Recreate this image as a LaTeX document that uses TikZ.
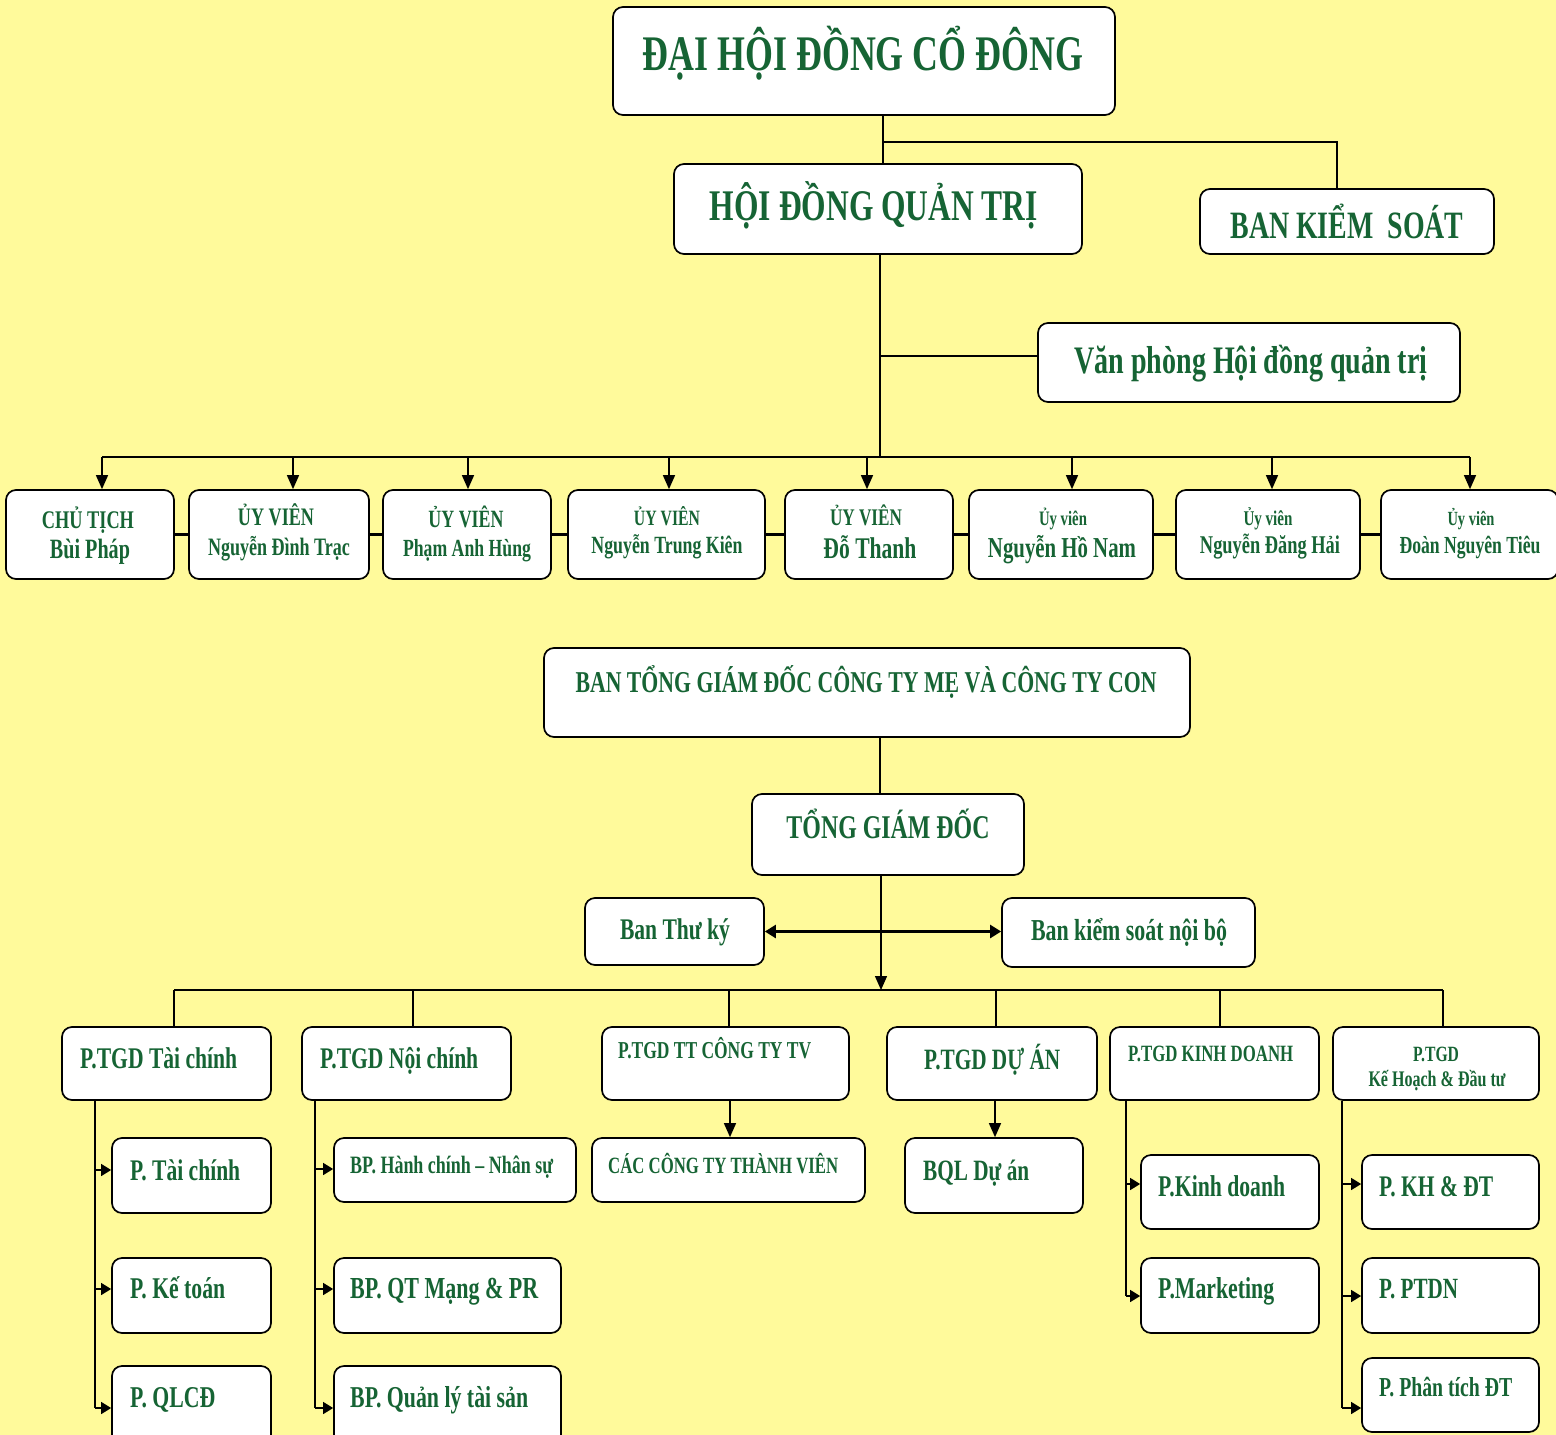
\documentclass[tikz,border=0pt]{standalone}
\usepackage{graphicx}
\usepackage{fontspec}
\setmainfont{Liberation Serif}[FakeStretch=0.72]
\usetikzlibrary{arrows.meta,fit}
\definecolor{bg}{RGB}{255,250,155}
\definecolor{tg}{RGB}{22,100,52}
\tikzset{
 bx/.style={draw=black, line width=1.7pt, fill=white, rounded corners=10pt, inner sep=0pt},
 txt/.style={inner sep=0pt, text=tg, font=\bfseries},
 ln/.style={draw=black, line width=1.4pt},
 arr/.style={ln, -{Triangle[length=14pt,width=12pt]}},
 sarr/.style={ln, -{Triangle[length=10pt,width=12pt]}},
 darr/.style={draw=black, line width=2.4pt, {Triangle[length=11pt,width=13pt]}-{Triangle[length=11pt,width=13pt]}},
}
\newcommand\bx[5]{\node[bx,fit={(#2,#3)(#4,#5)}] (#1) {};}
\newcommand\tx[6]{\node[txt,anchor=#1] (#2) at (#3,#4) {\resizebox{#5pt}{!}{#6}};}
\begin{document}
\begin{tikzpicture}[x=1pt,y=-1pt]
\fill[bg] (0,0) rectangle (1556,1435);
\useasboundingbox (0,0) rectangle (1556,1435);

% ---------- top ----------
\bx{dh}{613}{7}{1115}{115}
\tx{base}{tdh}{863}{70}{440}{ĐẠI HỘI ĐỒNG CỔ ĐÔNG}
\bx{hd}{674}{164}{1082}{254}
\tx{base}{thd}{874}{220}{328}{HỘI ĐỒNG QUẢN TRỊ}
\bx{bks}{1200}{189}{1494}{254}
\tx{base}{tbks}{1347}{238}{233}{BAN KIỂM~ SOÁT}
\bx{vp}{1038}{323}{1460}{402}
\tx{base}{tvp}{1251}{373}{353}{Văn phòng Hội đồng quản trị}

\coordinate (j1) at (883,142);
\coordinate (j2) at (1337,142);
\draw[ln] (j1 |- dh.south) -- (j1 |- hd.north);
\draw[ln] (j1) -- (j2) -- (j2 |- bks.north);
\coordinate (j3) at (880,356);
\coordinate (rb) at (880,457);
\draw[ln] (j3 |- hd.south) -- (rb);
\draw[ln] (j3) -- (j3 -| vp.west);

% ---------- board members ----------
\bx{r1}{6}{490}{174}{579}
\bx{r2}{189}{490}{369}{579}
\bx{r3}{383}{490}{551}{579}
\bx{r4}{568}{490}{765}{579}
\bx{r5}{785}{490}{953}{579}
\bx{r6}{969}{490}{1153}{579}
\bx{r7}{1176}{490}{1360}{579}
\bx{r8}{1381}{490}{1558}{579}

\tx{base}{r1a}{88}{528}{92}{CHỦ TỊCH}
\tx{base}{r1b}{90}{558}{80}{Bùi Pháp}
\tx{base}{r2a}{276}{525}{76}{ỦY VIÊN}
\tx{base}{r2b}{279}{555}{142}{Nguyễn Đình Trạc}
\tx{base}{r3a}{466}{527}{75}{ỦY VIÊN}
\tx{base}{r3b}{467}{556}{128}{Phạm Anh Hùng}
\tx{base}{r4a}{667}{525}{66}{ỦY VIÊN}
\tx{base}{r4b}{667}{553}{151}{Nguyễn Trung Kiên}
\tx{base}{r5a}{866}{525}{72}{ỦY VIÊN}
\tx{base}{r5b}{870}{558}{93}{Đỗ Thanh}
\tx{base}{r6a}{1063}{525}{48}{Ủy viên}
\tx{base}{r6b}{1062}{557}{148}{Nguyễn Hồ Nam}
\tx{base}{r7a}{1268}{525}{49}{Ủy viên}
\tx{base}{r7b}{1270}{553}{140}{Nguyễn Đăng Hải}
\tx{base}{r8a}{1471}{525}{47}{Ủy viên}
\tx{base}{r8b}{1470}{553}{141}{Đoàn Nguyên Tiêu}

\coordinate (a1) at (102,457);
\coordinate (a2) at (293,457);
\coordinate (a3) at (468,457);
\coordinate (a4) at (669,457);
\coordinate (a5) at (867,457);
\coordinate (a6) at (1072,457);
\coordinate (a7) at (1272,457);
\coordinate (a8) at (1470,457);
\draw[ln] (a1) -- (a8);
\foreach \i in {1,...,8}{\draw[arr] (a\i) -- (a\i |- r\i.north);}
\foreach \i/\j in {1/2,2/3,3/4,4/5,5/6,6/7,7/8}{\draw[ln, line width=2.2pt] (r\i.east) -- (r\j.west);}

% ---------- executive ----------
\bx{bt}{544}{648}{1190}{737}
\tx{base}{tbt}{866}{692}{581}{BAN TỔNG GIÁM ĐỐC CÔNG TY MẸ VÀ CÔNG TY CON}
\bx{tgd}{752}{794}{1024}{875}
\tx{base}{ttgd}{888}{838}{203}{TỔNG GIÁM ĐỐC}
\bx{btk}{585}{898}{764}{965}
\tx{base}{tbtk}{675}{939}{110}{Ban Thư ký}
\bx{bksnb}{1002}{898}{1255}{967}
\tx{base}{tbksnb}{1129}{940}{196}{Ban kiểm soát nội bộ}

\coordinate (k0) at (880,700);
\draw[ln] (k0 |- bt.south) -- (k0 |- tgd.north);
\coordinate (hb) at (881,990);
\draw[darr] (btk.east) -- (btk.east -| bksnb.west);
\draw[arr] (hb |- tgd.south) -- (hb);

% ---------- deputy directors ----------
\bx{p1}{62}{1027}{271}{1100}
\bx{p2}{302}{1027}{511}{1100}
\bx{p3}{602}{1027}{849}{1100}
\bx{p4}{887}{1027}{1097}{1100}
\bx{p5}{1110}{1027}{1319}{1100}
\bx{p6}{1333}{1027}{1539}{1100}
\tx{base west}{tp1}{80}{1068}{157}{P.TGD Tài chính}
\tx{base west}{tp2}{320}{1068}{158}{P.TGD Nội chính}
\tx{base west}{tp3}{618}{1058}{193}{P.TGD TT CÔNG TY TV}
\tx{base west}{tp4}{924}{1069}{136}{P.TGD DỰ ÁN}
\tx{base west}{tp5}{1128}{1061}{165}{P.TGD KINH DOANH}
\tx{base}{tp6a}{1436}{1061}{46}{P.TGD}
\tx{base}{tp6b}{1437}{1086}{137}{Kế Hoạch \& Đầu tư}

\coordinate (c1) at (174,990);
\coordinate (c2) at (413,990);
\coordinate (c3) at (729,990);
\coordinate (c4) at (996,990);
\coordinate (c5) at (1220,990);
\coordinate (c6) at (1443,990);
\draw[ln] (c1) -- (c6);
\foreach \i in {1,...,6}{\draw[ln] (c\i) -- (c\i |- p\i.north);}

% ---------- departments ----------
\bx{k11}{112}{1138}{271}{1213}
\bx{k12}{112}{1258}{271}{1333}
\bx{k13}{112}{1366}{271}{1450}
\tx{base west}{tk11}{130}{1180}{110}{P. Tài chính}
\tx{base west}{tk12}{130}{1298}{95}{P. Kế toán}
\tx{base west}{tk13}{130}{1407}{85}{P. QLCĐ}

\bx{k21}{334}{1138}{576}{1202}
\bx{k22}{334}{1258}{561}{1333}
\bx{k23}{334}{1366}{561}{1450}
\tx{base west}{tk21}{350}{1173}{203}{BP. Hành chính – Nhân sự}
\tx{base west}{tk22}{350}{1298}{188}{BP. QT Mạng \& PR}
\tx{base west}{tk23}{350}{1407}{178}{BP. Quản lý tài sản}

\bx{k31}{592}{1138}{865}{1202}
\tx{base west}{tk31}{608}{1173}{230}{CÁC CÔNG TY THÀNH VIÊN}
\bx{k41}{905}{1138}{1083}{1213}
\tx{base west}{tk41}{923}{1180}{106}{BQL Dự án}

\bx{k51}{1141}{1155}{1319}{1229}
\bx{k52}{1141}{1258}{1319}{1333}
\tx{base west}{tk51}{1158}{1196}{127}{P.Kinh doanh}
\tx{base west}{tk52}{1158}{1298}{116}{P.Marketing}

\bx{k61}{1362}{1155}{1539}{1229}
\bx{k62}{1362}{1258}{1539}{1333}
\bx{k63}{1362}{1358}{1539}{1432}
\tx{base west}{tk61}{1379}{1196}{114}{P. KH \& ĐT}
\tx{base west}{tk62}{1379}{1298}{79}{P. PTDN}
\tx{base west}{tk63}{1379}{1396}{133}{P. Phân tích ĐT}

% column 1
\coordinate (v11) at (95,1170);
\coordinate (v12) at (95,1289);
\coordinate (v13) at (95,1408);
\draw[ln] (v11 |- p1.south) -- (v13);
\draw[sarr] (v11) -- (v11 -| k11.west);
\draw[sarr] (v12) -- (v12 -| k12.west);
\draw[sarr] (v13) -- (v13 -| k13.west);
% column 2
\coordinate (v21) at (315,1169);
\coordinate (v22) at (315,1289);
\coordinate (v23) at (315,1408);
\draw[ln] (v21 |- p2.south) -- (v23);
\draw[sarr] (v21) -- (v21 -| k21.west);
\draw[sarr] (v22) -- (v22 -| k22.west);
\draw[sarr] (v23) -- (v23 -| k23.west);
% column 3, 4
\coordinate (v3) at (730,1110);
\draw[arr] (v3 |- p3.south) -- (v3 |- k31.north);
\coordinate (v4) at (995,1110);
\draw[arr] (v4 |- p4.south) -- (v4 |- k41.north);
% column 5
\coordinate (v51) at (1126,1184);
\coordinate (v52) at (1126,1296);
\draw[ln] (v51 |- p5.south) -- (v52);
\draw[sarr] (v51) -- (v51 -| k51.west);
\draw[sarr] (v52) -- (v52 -| k52.west);
% column 6
\coordinate (v61) at (1342,1184);
\coordinate (v62) at (1342,1296);
\coordinate (v63) at (1342,1408);
\draw[ln] (v61 |- p6.south) -- (v63);
\draw[sarr] (v61) -- (v61 -| k61.west);
\draw[sarr] (v62) -- (v62 -| k62.west);
\draw[sarr] (v63) -- (v63 -| k63.west);
\end{tikzpicture}
\end{document}
